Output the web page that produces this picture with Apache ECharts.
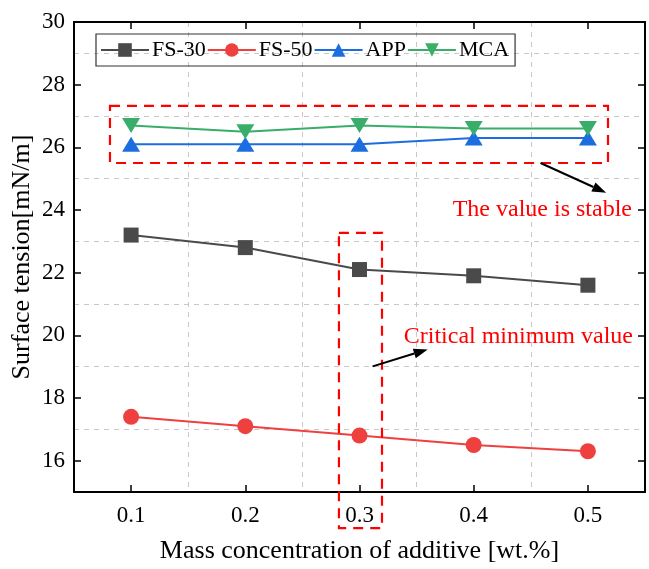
<!DOCTYPE html>
<html>
<head>
<meta charset="utf-8">
<script src="https://cdn.jsdelivr.net/npm/echarts@6/dist/echarts.min.js"></script>
<style>
  html, body { margin: 0; padding: 0; background: #fff; }
  #chart { width: 649px; height: 569px; }
</style>
</head>
<body>
<div id="chart"></div>
<script>
var xValues = [0.1, 0.2, 0.3, 0.4, 0.5];
var yTicks = [16, 18, 20, 22, 24, 26, 28, 30];
var seriesNames = ['FS-30', 'FS-50', 'APP', 'MCA'];
var fs30 = [23.2, 22.8, 22.1, 21.9, 21.6];
var fs50 = [17.4, 17.1, 16.8, 16.5, 16.3];
var app = [26.1, 26.1, 26.1, 26.3, 26.3];
var mca = [26.7, 26.5, 26.7, 26.6, 26.6];

// annotations, in data units
var boxStable = [0.0815, 27.32, 0.5176, 25.5];
var boxCritical = [0.282, 23.27, 0.3197, 13.85];
var arrowStable = [[0.4585, 25.5], [0.516, 24.55]];
var arrowCritical = [0.3115, 19.01, 0.3597, 19.55];
var labelStable = 'The value is stable';
var labelCritical = 'Critical minimum value';

var font = 'Liberation Serif, Times New Roman, serif';
var chart = echarts.init(document.getElementById('chart'));

function pairs(ys) {
    return xValues.map(function (x, i) { return [x, ys[i]]; });
}

function lineSeries(name, data, color, symbol, size, rotate) {
    return {
        name: name,
        type: 'line',
        data: pairs(data),
        symbol: symbol,
        symbolSize: size,
        symbolRotate: rotate || 0,
        showAllSymbol: true,
        lineStyle: { color: color, width: 2 },
        itemStyle: { color: color },
        emphasis: { disabled: true },
        z: 5
    };
}

var tickStyle = { inside: true, length: 7, lineStyle: { color: '#000', width: 1.5 } };
var lineStyleAxis = { show: true, lineStyle: { color: '#000', width: 2 } };
var gridDash = { show: true, lineStyle: { color: '#c8c8c8', type: [5, 5], width: 1 } };

var option = {
    animation: false,
    textStyle: { fontFamily: font },
    grid: { left: 74, right: 4, top: 22, bottom: 77, outerBoundsMode: 'none', containLabel: false },
    legend: {
        left: 96, top: 34,
        data: seriesNames,
        itemWidth: 48, itemHeight: 17, itemGap: 1,
        padding: [5, 6, 5, 4],
        borderColor: '#333', borderWidth: 1.2,
        textStyle: { fontFamily: font, fontSize: 22, color: '#000', padding: [0, 0, 0, -2] }
    },
    xAxis: [
        {
            type: 'value', position: 'bottom', min: 0.05, max: 0.55,
            name: 'Mass concentration of additive [wt.%]',
            nameLocation: 'middle', nameGap: 46, nameMoveOverlap: false,
            nameTextStyle: { fontFamily: font, fontSize: 26, color: '#000' },
            axisLine: lineStyleAxis,
            axisTick: Object.assign({ customValues: xValues }, tickStyle),
            axisLabel: { customValues: xValues, fontSize: 23, color: '#000', margin: 12, fontFamily: font },
            splitLine: { show: false }
        },
        {
            type: 'value', position: 'top', min: 0.05, max: 0.55,
            axisLine: lineStyleAxis,
            axisTick: Object.assign({ customValues: xValues }, tickStyle),
            axisLabel: { show: false },
            splitLine: { show: false }
        },
        {
            type: 'value', position: 'bottom', min: 0.05, max: 0.55, interval: 0.1,
            axisLine: { show: false }, axisTick: { show: false }, axisLabel: { show: false },
            splitLine: gridDash
        }
    ],
    yAxis: [
        {
            type: 'value', position: 'left', min: 15, max: 30,
            name: 'Surface tension[mN/m]',
            nameLocation: 'middle', nameGap: 39, nameMoveOverlap: false,
            nameTextStyle: { fontFamily: font, fontSize: 26, color: '#000' },
            axisLine: lineStyleAxis,
            axisTick: Object.assign({ customValues: yTicks }, tickStyle),
            axisLabel: { customValues: yTicks, fontSize: 23, color: '#000', margin: 9, fontFamily: font },
            splitLine: { show: false }
        },
        {
            type: 'value', position: 'right', min: 15, max: 30,
            axisLine: lineStyleAxis,
            axisTick: Object.assign({ customValues: yTicks }, tickStyle),
            axisLabel: { show: false },
            splitLine: { show: false }
        },
        {
            type: 'value', position: 'left', min: 15, max: 30, interval: 2,
            axisLine: { show: false }, axisTick: { show: false }, axisLabel: { show: false },
            splitLine: gridDash
        }
    ],
    series: [
        lineSeries('FS-30', fs30, '#4a4a4a', 'rect', 15),
        lineSeries('FS-50', fs50, '#ef4040', 'circle', 16),
        lineSeries('APP', app, '#1c6ee0', 'triangle', [18, 15]),
        lineSeries('MCA', mca, '#39ae6a', 'triangle', [18, 15], 180)
    ]
};
chart.setOption(option);

// red dashed boxes, arrows and notes placed from data units
function px(x, y) {
    return chart.convertToPixel({ seriesIndex: 0 }, [x, y]);
}

function dashedBox(b) {
    var p1 = px(b[0], b[1]);
    var p2 = px(b[2], b[3]);
    return {
        type: 'rect', z: 20,
        shape: { x: p1[0], y: p1[1], width: p2[0] - p1[0], height: p2[1] - p1[1] },
        style: { fill: 'none', stroke: '#ff0000', lineWidth: 2.2, lineDash: [10, 7] }
    };
}

function arrow(x1, y1, x2, y2) {
    var a = px(x1, y1);
    var b = px(x2, y2);
    var ang = Math.atan2(b[1] - a[1], b[0] - a[0]);
    var len = 14, half = 5;
    var bx = b[0] - len * Math.cos(ang), by = b[1] - len * Math.sin(ang);
    var nx = -Math.sin(ang) * half, ny = Math.cos(ang) * half;
    return [
        {
            type: 'line', z: 20,
            shape: { x1: a[0], y1: a[1], x2: bx, y2: by },
            style: { stroke: '#000', lineWidth: 2 }
        },
        {
            type: 'polygon', z: 20,
            shape: { points: [[b[0], b[1]], [bx + nx, by + ny], [bx - nx, by - ny]] },
            style: { fill: '#000' }
        }
    ];
}

function note(text, x, y) {
    var p = px(x, y);
    return {
        type: 'text', z: 20, x: p[0], y: p[1],
        style: {
            text: text, fill: '#ff0000', font: '24px ' + font,
            align: 'right', verticalAlign: 'middle'
        }
    };
}

var elements = [dashedBox(boxStable), dashedBox(boxCritical)]
    .concat(arrow(arrowStable[0][0], arrowStable[0][1], arrowStable[1][0], arrowStable[1][1]))
    .concat(arrow(arrowCritical[0], arrowCritical[1], arrowCritical[2], arrowCritical[3]))
    .concat([note(labelStable, 0.5386, 24.0), note(labelCritical, 0.5395, 19.95)]);

chart.setOption({ graphic: { elements: elements } });
</script>
</body>
</html>
